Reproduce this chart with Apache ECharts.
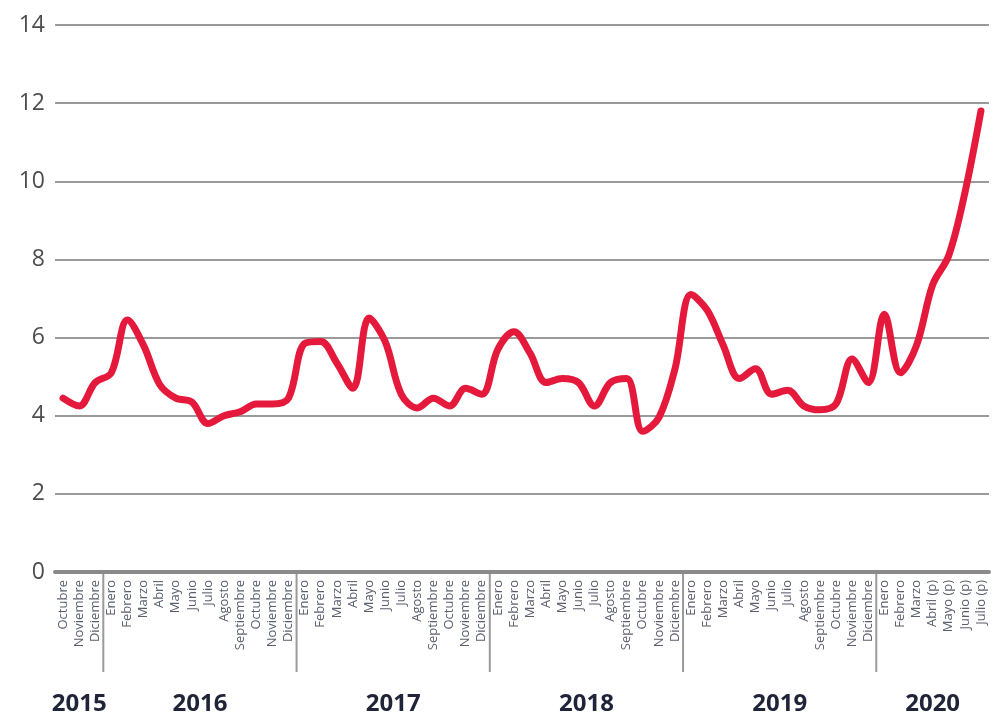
<!DOCTYPE html>
<html>
<head>
<meta charset="utf-8">
<script src="https://cdn.jsdelivr.net/npm/echarts@6/dist/echarts.min.js"></script>
<style>
html,body{margin:0;padding:0;background:#fff;}
#chart{width:997px;height:719px;}
</style>
</head>
<body>
<div id="chart"></div>
<script>
// ---- data ----
const years = ['2015', '2016', '2017', '2018', '2019', '2020'];
const months2015 = ['Octubre', 'Noviembre', 'Diciembre'];
const monthsFull = ['Enero', 'Febrero', 'Marzo', 'Abril', 'Mayo', 'Junio', 'Julio', 'Agosto', 'Septiembre', 'Octubre', 'Noviembre', 'Diciembre'];
const months2020 = ['Enero', 'Febrero', 'Marzo', 'Abril (p)', 'Mayo (p)', 'Junio (p)', 'Julio (p)'];

const values2015 = [4.45, 4.25, 4.85];
const values2016 = [5.1, 6.45, 5.8, 4.8, 4.45, 4.35, 3.8, 4.0, 4.1, 4.3, 4.3, 4.45];
const values2017 = [5.85, 5.9, 5.35, 4.7, 6.5, 5.9, 4.55, 4.2, 4.45, 4.25, 4.7, 4.55];
const values2018 = [5.7, 6.15, 5.6, 4.85, 4.95, 4.85, 4.25, 4.85, 4.95, 3.6, 3.95, 5.2];
const values2019 = [7.1, 6.7, 5.8, 4.95, 5.2, 4.55, 4.65, 4.25, 4.15, 4.3, 5.45, 4.85];
const values2020 = [6.6, 5.1, 5.8, 7.35, 8.1, 9.7, 11.8];

const yTicks = [0, 2, 4, 6, 8, 10, 12, 14];

// ---- build ----
const monthGroups = [months2015, monthsFull, monthsFull, monthsFull, monthsFull, months2020];
const valueGroups = [values2015, values2016, values2017, values2018, values2019, values2020];
const categories = [];
const values = [];
const groupRanges = [];
monthGroups.forEach((g, gi) => {
  const start = categories.length;
  g.forEach((m, mi) => { categories.push(m); values.push(valueGroups[gi][mi]); });
  groupRanges.push([start, categories.length - 1]);
});

const chart = echarts.init(document.getElementById('chart'), null, {renderer: 'canvas'});
const option = {
  animation: false,
  grid: {left: 55, right: 8, top: 25, bottom: 147, containLabel: false},
  xAxis: {
    type: 'category',
    data: categories,
    boundaryGap: true,
    axisLine: {show: true, lineStyle: {color: '#8a8a8a', width: 4}},
    axisTick: {show: false},
    axisLabel: {
      interval: 0, rotate: 90, margin: 8,
      fontFamily: 'Open Sans', fontSize: 13, color: '#5a5f6e'
    },
    splitLine: {show: false}
  },
  yAxis: {
    type: 'value',
    min: yTicks[0], max: yTicks[yTicks.length - 1], interval: 2,
    axisLine: {show: false},
    axisTick: {show: false},
    axisLabel: {margin: 10, fontFamily: 'Open Sans', fontSize: 23, color: '#4d4d4d'},
    splitLine: {show: true, lineStyle: {color: '#9a9a9a', width: 2}}
  },
  series: [{
    type: 'line',
    data: values,
    smooth: 0.35,
    showSymbol: false,
    lineStyle: {color: '#e5193b', width: 7, cap: 'round', join: 'round'},
    z: 5
  }]
};
chart.setOption(option);

// year dividers and year labels positioned from the axis scale
const px = i => chart.convertToPixel({xAxisIndex: 0}, i);
const y0 = chart.convertToPixel({yAxisIndex: 0}, 0);
const graphics = [];
groupRanges.forEach((r, gi) => {
  if (r[0] > 0) {
    const xb = (px(r[0] - 1) + px(r[0])) / 2;
    graphics.push({
      type: 'line', silent: true,
      shape: {x1: xb, y1: y0, x2: xb, y2: y0 + 100},
      style: {stroke: '#9a9a9a', lineWidth: 2}
    });
  }
  const xc = (px(r[0]) + px(r[1])) / 2;
  graphics.push({
    type: 'text', silent: true,
    x: xc, y: y0 + 132,
    style: {
      text: years[gi], fontFamily: 'Open Sans', fontWeight: 'bold', fontSize: 24,
      fill: '#1f2438', align: 'center', verticalAlign: 'middle'
    }
  });
});
chart.setOption({graphic: graphics});
</script>
</body>
</html>
